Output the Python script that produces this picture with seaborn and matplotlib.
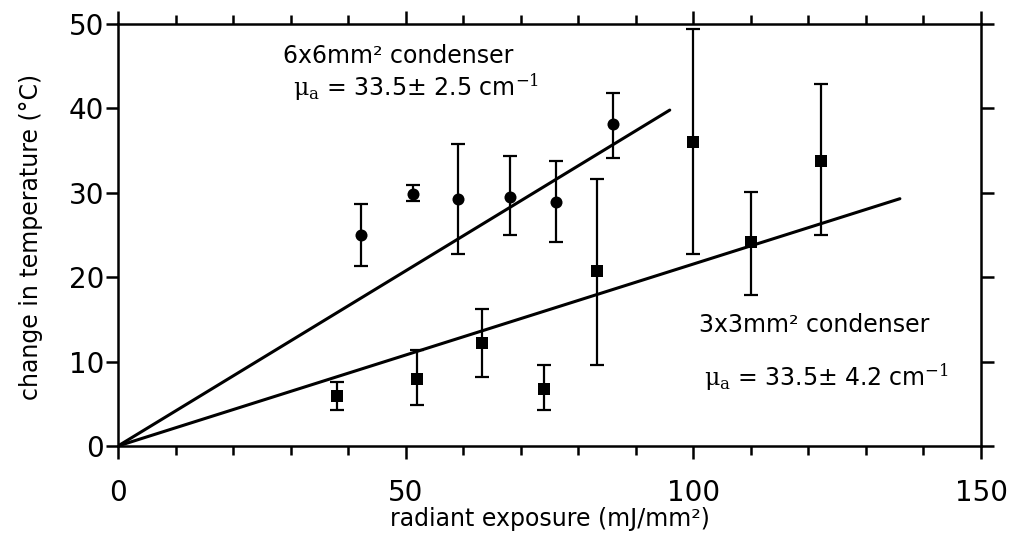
import matplotlib
matplotlib.use("Agg")
import matplotlib.pyplot as plt
import seaborn as sns
import numpy as np
import pandas as pd
from matplotlib.ticker import MultipleLocator

# 6x6 mm^2 condenser (circles)
x6 = [42.3, 51.2, 59.1, 68.2, 76.2, 86.1]
y6 = [25.0, 29.9, 29.3, 29.5, 28.9, 38.1]
y6_hi = [28.7, 30.9, 35.8, 34.4, 33.8, 41.8]
y6_lo = [21.3, 29.0, 22.7, 25.0, 24.2, 34.1]

# 3x3 mm^2 condenser (squares)
x3 = [38.1, 52.0, 63.2, 74.1, 83.3, 100.0, 110.0, 122.2]
y3 = [5.9, 7.9, 12.2, 6.8, 20.7, 36.0, 24.2, 33.8]
y3_hi = [7.6, 11.4, 16.2, 9.6, 31.6, 49.4, 30.1, 42.9]
y3_lo = [4.3, 4.9, 8.2, 4.3, 9.6, 22.7, 17.9, 25.0]

# fitted lines
fit6_x = [0.0, 95.9]
fit6_y = [0.0, 39.8]
fit3_x = [0.0, 135.9]
fit3_y = [0.0, 29.3]

xlabel = "radiant exposure (mJ/mm²)"
ylabel = "change in temperature (°C)"
ann6 = ["6x6mm² condenser", r"$\mathrm{μ}_\mathrm{a}$ = 33.5± 2.5 cm$^{-1}$"]
ann3 = ["3x3mm² condenser", r"$\mathrm{μ}_\mathrm{a}$ = 33.5± 4.2 cm$^{-1}$"]

sns.set_style("ticks")
plt.rcParams['font.family'] = ['DejaVu Sans']
plt.rcParams['mathtext.fontset'] = 'dejavuserif'
plt.rcParams['text.color'] = 'black'
plt.rcParams['axes.labelcolor'] = 'black'
plt.rcParams['xtick.color'] = 'black'
plt.rcParams['ytick.color'] = 'black'

fig = plt.figure(figsize=(10.13, 5.44), dpi=100)
ax = fig.add_axes([118/1013, 1-446/544, (981-118)/1013, (446-24)/544])

df6 = pd.DataFrame({"x": x6, "y": y6})
df3 = pd.DataFrame({"x": x3, "y": y3})
f6 = pd.DataFrame({"x": fit6_x, "y": fit6_y})
f3 = pd.DataFrame({"x": fit3_x, "y": fit3_y})

sns.lineplot(data=f6, x="x", y="y", ax=ax, color="black", lw=2.2)
sns.lineplot(data=f3, x="x", y="y", ax=ax, color="black", lw=2.2)

e6 = [np.array(y6) - np.array(y6_lo), np.array(y6_hi) - np.array(y6)]
e3 = [np.array(y3) - np.array(y3_lo), np.array(y3_hi) - np.array(y3)]
ax.errorbar(x6, y6, yerr=e6, fmt="none", ecolor="black", elinewidth=1.6, capsize=4.7, capthick=1.6)
ax.errorbar(x3, y3, yerr=e3, fmt="none", ecolor="black", elinewidth=1.6, capsize=4.7, capthick=1.6)

sns.scatterplot(data=df6, x="x", y="y", ax=ax, marker="o", s=75, color="black", edgecolor="black", linewidth=0, zorder=5)
sns.scatterplot(data=df3, x="x", y="y", ax=ax, marker="s", s=75, color="black", edgecolor="black", linewidth=0, zorder=5)

ax.set_xlim(0, 150)
ax.set_ylim(0, 50)
ax.xaxis.set_major_locator(MultipleLocator(50))
ax.xaxis.set_minor_locator(MultipleLocator(10))
ax.yaxis.set_major_locator(MultipleLocator(10))

for s in ax.spines.values():
    s.set_visible(True)
    s.set_linewidth(1.8)
    s.set_color("black")

ax.tick_params(axis="x", which="major", direction="out", length=9.5, width=1.8,
               top=True, bottom=True, labelsize=20, pad=14, colors="black")
ax.tick_params(axis="x", which="minor", direction="out", length=6.5, width=1.8,
               top=True, bottom=True)
ax.tick_params(axis="y", which="major", direction="out", length=9, width=1.8,
               left=True, right=True, labelsize=20, pad=1, colors="black")

ax.set_xlabel(xlabel, fontsize=17, color="black")
ax.set_ylabel(ylabel, fontsize=17, color="black")
ax.xaxis.set_label_coords(0.5, -0.145)
ax.yaxis.set_label_coords(-0.087, 0.495)

ax.text(28.7, 46.2, ann6[0], fontsize=17, va="center", ha="left", color="black")
ax.text(30.5, 42.5, ann6[1], fontsize=17, va="center", ha="left", color="black")
ax.text(100.9, 14.3, ann3[0], fontsize=17, va="center", ha="left", color="black")
ax.text(101.8, 8.2, ann3[1], fontsize=17, va="center", ha="left", color="black")

fig.savefig("out.png", dpi=100)
